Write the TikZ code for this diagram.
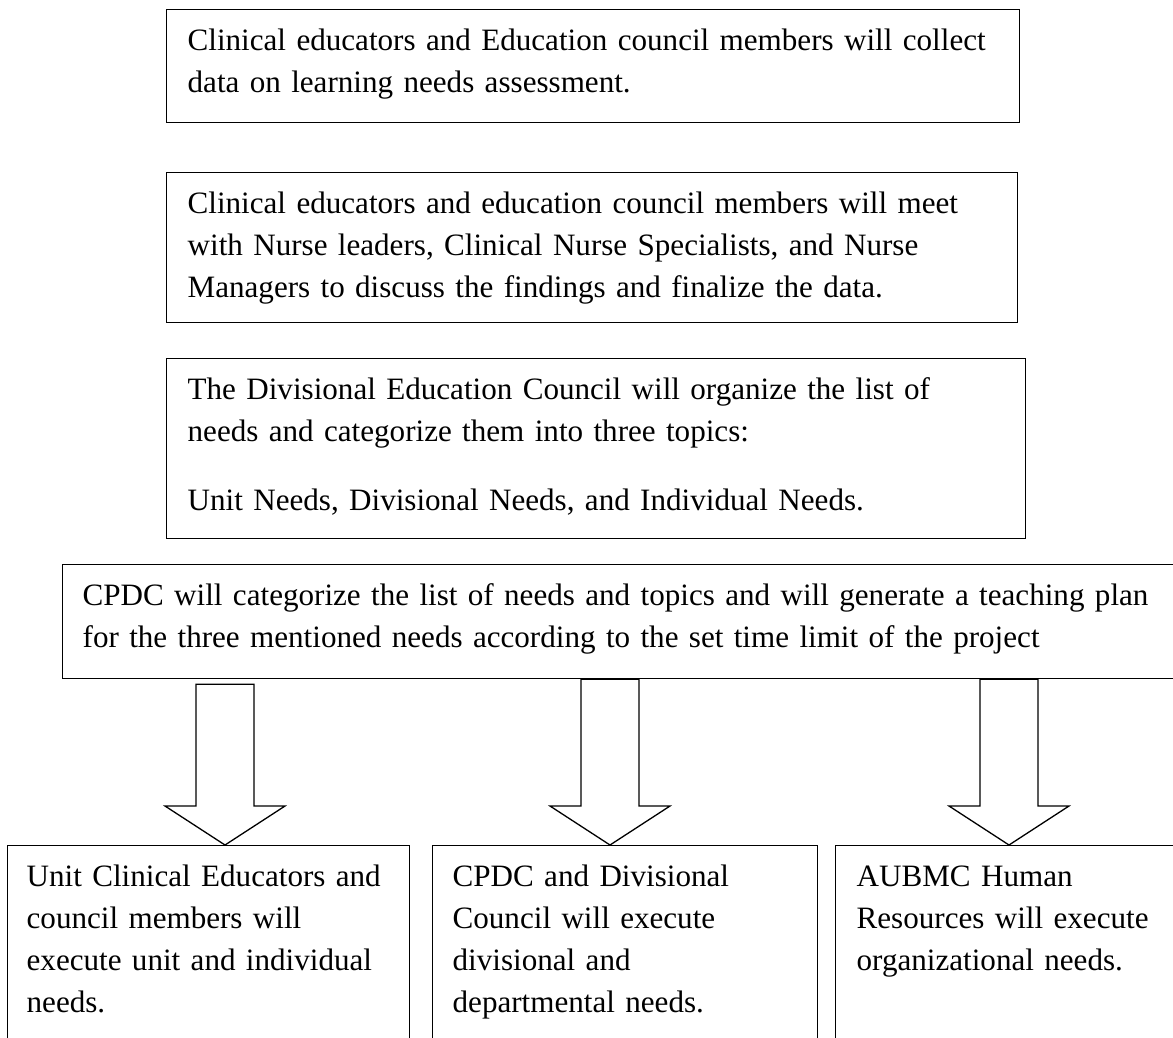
\documentclass[tikz,border=0pt]{standalone}
\usepackage{fontspec}
\setmainfont{Liberation Serif}
\usepackage{tikz}
\usetikzlibrary{calc}

% hollow block arrow: x of the arrow, node it leaves, node it points at, gap below the top node
\newcommand{\fatarrow}[4]{%
  \draw[fatarrowline] ($(#1,0 |- #2)+(-29,#4)$) -- ($(#1,0 |- #3)+(-29,-39)$) -- ++(-31,0)
    -- (#1,0 |- #3) -- ($(#1,0 |- #3)+(60,-39)$) -- ++(-31,0)
    -- ($(#1,0 |- #2)+(29,#4)$) -- cycle;}

\begin{document}
\begin{tikzpicture}[x=1pt,y=-1pt,
    stagebox/.style={draw, line width=1.3pt, anchor=north west, align=left,
      inner xsep=21pt, inner ysep=17pt, text height=24pt,
      font=\fontsize{31.1}{42}\selectfont},
    fatarrowline/.style={draw, line width=1.3pt, line join=miter}]
  \useasboundingbox (0,0) rectangle (1173,1037);

  \node[stagebox, text width=811pt, text depth=55pt] (collect) at (166,9)
    {Clinical educators and Education council members will collect\\
     data on learning needs assessment.};
  \node[stagebox, text width=809pt, text depth=92pt] (meet) at (166,172)
    {Clinical educators and education council members will meet\\
     with Nurse leaders, Clinical Nurse Specialists, and Nurse\\
     Managers to discuss the findings and finalize the data.};
  \node[stagebox, text width=817pt, text depth=122pt] (organize) at (166,358)
    {The Divisional Education Council will organize the list of\\
     needs and categorize them into three topics:\\[27pt]
     Unit Needs, Divisional Needs, and Individual Needs.};
  \node[stagebox, inner xsep=20pt, text width=1098pt, text depth=56pt] (plan) at (62,564)
    {CPDC will categorize the list of needs and topics and will generate a teaching plan\\
     for the three mentioned needs according to the set time limit of the project};

  % three executing groups
  \node[stagebox, inner xsep=19pt, text width=364pt, text depth=200pt] (unitbox) at (7,845)
    {Unit Clinical Educators and\\ council members will\\
     execute unit and individual\\ needs.};
  \node[stagebox, inner xsep=20pt, text width=345pt, text depth=200pt] (divisionbox) at (432,845)
    {CPDC and Divisional\\ Council will execute\\ divisional and\\
     departmental needs.};
  \node[stagebox, text width=323pt, text depth=200pt] (hrbox) at (835,845)
    {AUBMC Human\\ Resources will execute\\ organizational needs.};

  \fatarrow{225}{plan.south}{unitbox.north}{5}
  \fatarrow{610}{plan.south}{divisionbox.north}{0}
  \fatarrow{1009}{plan.south}{hrbox.north}{0}
\end{tikzpicture}
\end{document}
